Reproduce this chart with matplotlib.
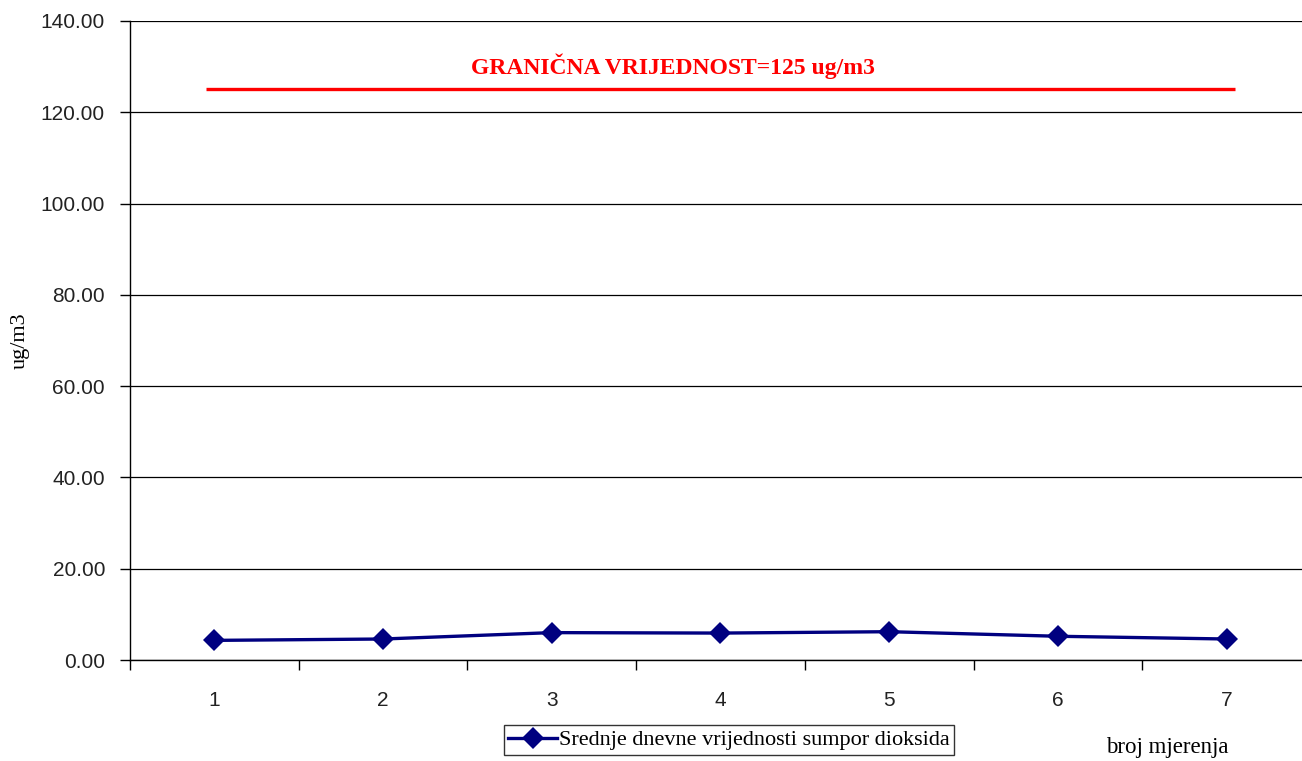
import numpy as np
import matplotlib
matplotlib.use("Agg")
import matplotlib.pyplot as plt
from matplotlib.ticker import FixedLocator, FormatStrFormatter

# podaci
mjerenja = [1, 2, 3, 4, 5, 6, 7]
so2 = [4.3, 4.6, 6.0, 5.9, 6.2, 5.2, 4.6]
granica = 125
granica_x = [0.95, 7.05]

serif = "Liberation Serif"
sans = "Liberation Sans"

fig = plt.figure(figsize=(13.02, 7.61), dpi=100)
ax = fig.add_axes([130 / 1302, 101 / 761, 1181 / 1302, 639 / 761])

# granicna vrijednost
ax.plot(granica_x, [granica, granica], color="#ff0000", lw=2.4, solid_capstyle="butt")
ax.text(np.mean(granica_x) - 0.28, 127.3, "GRANIČNA VRIJEDNOST=125 ug/m3", color="#ff0000",
        fontsize=17, fontweight="bold", family=serif, ha="center", va="bottom")

# srednje dnevne vrijednosti
line, = ax.plot(mjerenja, so2, color="#000080", lw=2.4, marker="D", markersize=11,
                markeredgewidth=0, label="Srednje dnevne vrijednosti sumpor dioksida")

ax.set_xlim(0.5, 7.5)
ax.set_ylim(0, 140)
ax.set_yticks(np.arange(0, 141, 20))
ax.yaxis.set_major_formatter(FormatStrFormatter("%.2f"))
ax.grid(axis="y", color="black", lw=0.9)
ax.set_axisbelow(True)

ax.set_xticks(mjerenja)
ax.xaxis.set_minor_locator(FixedLocator(np.arange(0.5, 8, 1)))
ax.tick_params(axis="x", which="major", length=0, pad=22)
ax.tick_params(axis="x", which="minor", length=7, width=1, color="black")
ax.tick_params(axis="y", length=7, width=1, pad=11)
for lab in ax.get_xticklabels() + ax.get_yticklabels():
    lab.set_family(sans)
    lab.set_fontsize(15)
    lab.set_color("#222222")

for s in ["top", "right"]:
    ax.spines[s].set_visible(False)
ax.spines["left"].set_linewidth(1)
ax.spines["bottom"].set_linewidth(1)

ax.set_ylabel("ug/m3", family=serif, fontsize=16)
ax.yaxis.set_label_coords(-0.085, 0.5)

leg = fig.legend(handles=[line], loc="center", bbox_to_anchor=(729 / 1302, 1 - 740 / 761),
                 prop={"family": serif, "size": 16}, frameon=True, fancybox=False,
                 edgecolor="black", handlelength=2.2, handletextpad=0.1, borderpad=0.2,
                 borderaxespad=0)
leg.get_frame().set_linewidth(1)

fig.text(1167 / 1302, 1 - 747 / 761, "broj mjerenja", family=serif, fontsize=16.5,
         ha="center", va="center")

fig.savefig("out.png", dpi=100)
